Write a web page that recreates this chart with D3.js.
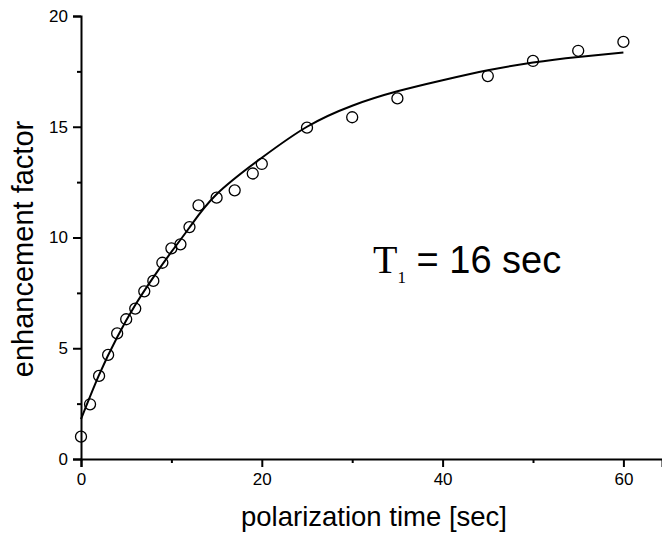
<!DOCTYPE html>
<html>
<head>
<meta charset="utf-8">
<script src="https://cdn.jsdelivr.net/npm/d3@7"></script>
<style>
  body { margin: 0; background: #fff; }
  svg text { font-family: "Liberation Sans", Arial, sans-serif; fill: #000; }
</style>
</head>
<body>
<div id="Graphs"></div>
<script>
// measured points (polarization time [sec], enhancement factor)
const times = [0, 1, 2, 3, 4, 5, 6, 7, 8, 9, 10, 11, 12, 13, 15, 17, 19, 20, 25, 30, 35, 45, 50, 55, 60];
const enhancement = [1.01, 2.47, 3.75, 4.70, 5.67, 6.31, 6.79, 7.57, 8.04, 8.86, 9.51, 9.69, 10.47,
  11.45, 11.80, 12.13, 12.89, 13.32, 14.96, 15.43, 16.28, 17.29, 17.97, 18.43, 18.83];

// fitted curve
const fitTimes = [0, 2, 4, 6, 8, 10, 12, 15, 20, 25, 30, 35, 40, 45, 50, 55, 60];
const fitValues = [1.8, 3.8, 5.5, 6.95, 8.2, 9.35, 10.45, 11.95, 13.6, 15.0, 15.95, 16.6, 17.1, 17.55, 17.9, 18.15, 18.35];

const xMajorTicks = [0, 20, 40, 60];
const xMinorTicks = [10, 30, 50];
const yMajorTicks = [0, 5, 10, 15, 20];
const yMinorTicks = [2.5, 7.5, 12.5, 17.5];

let svg = d3.select("#Graphs").append("svg")
  .attr("width", 662)
  .attr("height", 533)
  .style("background-color", "white");

let scaleX = d3.scaleLinear().domain([0, 64.27]).range([81, 662]);
let scaleY = d3.scaleLinear().domain([0, 20]).range([459, 16]);

//eixo X
let axisX = d3.axisBottom(scaleX)
  .tickValues(xMajorTicks)
  .tickSize(8)
  .tickPadding(6)
  .tickFormat(d3.format("d"));
let axisXMinor = d3.axisBottom(scaleX)
  .tickValues(xMinorTicks)
  .tickSize(4)
  .tickFormat("");

//eixo Y
let axisY = d3.axisLeft(scaleY)
  .tickValues(yMajorTicks)
  .tickSize(8)
  .tickPadding(5)
  .tickFormat(d3.format("d"));
let axisYMinor = d3.axisLeft(scaleY)
  .tickValues(yMinorTicks)
  .tickSize(4)
  .tickFormat("");

function styleAxis(g) {
  g.select(".domain").attr("stroke", "black").attr("stroke-width", 2);
  g.selectAll(".tick line").attr("stroke", "black").attr("stroke-width", 2);
  g.selectAll(".tick text").style("font-size", "17px").attr("fill", "black");
}

svg.append("g").attr("transform", "translate(0,459)").call(axisXMinor).call(styleAxis)
  .select(".domain").remove();
svg.append("g").attr("transform", "translate(0,459)").call(axisX).call(styleAxis);
svg.append("g").attr("transform", "translate(81,0)").call(axisYMinor).call(styleAxis)
  .select(".domain").remove();
svg.append("g").attr("transform", "translate(81,0)").call(axisY).call(styleAxis);

// curva do ajuste
let line = d3.line()
  .x((d, i) => scaleX(fitTimes[i]))
  .y(d => scaleY(d))
  .curve(d3.curveNatural);

svg.append("path")
  .datum(fitValues)
  .attr("d", line)
  .attr("fill", "none")
  .attr("stroke", "black")
  .attr("stroke-width", 2);

// pontos
svg.append("g").selectAll("circle").data(enhancement)
  .enter()
  .append("circle")
  .attr("cx", (d, i) => scaleX(times[i]))
  .attr("cy", d => scaleY(d))
  .attr("r", 5.5)
  .attr("fill", "none")
  .attr("stroke", "black")
  .attr("stroke-width", 1.3);

// labels
svg.append("text")
  .text("polarization time [sec]")
  .attr("x", 374)
  .attr("y", 526)
  .attr("text-anchor", "middle")
  .style("font-size", "27.5px");

svg.append("text")
  .text("enhancement factor")
  .attr("transform", "translate(33,249) rotate(-90)")
  .attr("text-anchor", "middle")
  .style("font-size", "29px");

let note = svg.append("text")
  .attr("x", 373)
  .attr("y", 273);
note.append("tspan")
  .text("T")
  .style("font-family", "'Liberation Serif', 'Times New Roman', serif")
  .style("font-size", "40px");
note.append("tspan")
  .text("1")
  .attr("dy", 10)
  .style("font-family", "'Liberation Serif', 'Times New Roman', serif")
  .style("font-size", "17px");
note.append("tspan")
  .text(" = 16 sec")
  .attr("dy", -10)
  .style("font-size", "38px");
</script>
</body>
</html>
